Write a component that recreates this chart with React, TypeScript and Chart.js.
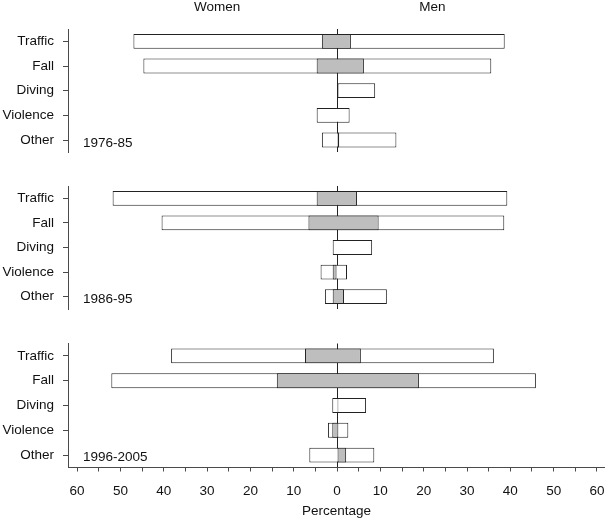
import React, { useEffect, useRef } from 'react';
import { Chart, registerables } from 'chart.js';

Chart.register(...registerables);

// ---- data ----
const categories = ['Traffic', 'Fall', 'Diving', 'Violence', 'Other'];
const periods = ['1976-85', '1986-95', '1996-2005'];

// 1976-85
const womenTotal1 = [47.0, 44.7, 0, 4.7, 3.5];
const menTotal1 = [38.7, 35.6, 8.8, 2.9, 13.7];
const womenGray1 = [3.5, 4.7, 0, 0, 0];
const menGray1 = [3.2, 6.2, 0, 0, 0.5];

// 1986-95
const womenTotal2 = [51.8, 40.5, 1.0, 3.8, 2.8];
const menTotal2 = [39.3, 38.6, 8.1, 2.3, 11.5];
const womenGray2 = [4.7, 6.6, 0, 1.0, 1.0];
const menGray2 = [4.6, 9.6, 0, 0, 1.6];

// 1996-2005
const womenTotal3 = [38.3, 52.1, 1.1, 2.1, 6.4];
const menTotal3 = [36.2, 45.9, 6.7, 2.6, 8.6];
const womenGray3 = [7.4, 13.9, 0, 1.1, 0];
const menGray3 = [5.5, 18.9, 0.3, 0.3, 2.1];

const headerLabels = ['Women', 'Men'];
const xTitle = 'Percentage';

// ---- styling ----
const FONT = "'Liberation Sans', Arial, Helvetica, sans-serif";
const TEXT = '#111111';
const AXIS = '#4a4a4a';
const EDGE = '#222222';
const ZERO = '#222222';
const GRAY = '#bebebe';

function floating(women: number[], men: number[]) {
  return women.map((w, i) => (w === 0 && men[i] === 0 ? null : [-w, men[i]]));
}

const panels = [
  { wt: womenTotal1, mt: menTotal1, wg: womenGray1, mg: menGray1 },
  { wt: womenTotal2, mt: menTotal2, wg: womenGray2, mg: menGray2 },
  { wt: womenTotal3, mt: menTotal3, wg: womenGray3, mg: menGray3 },
];

const layoutPads = [
  { top: 29, bottom: 12.65 },
  { top: 21, bottom: 11 },
  { top: 23.5, bottom: 0 },
];
const periodOffsets = [3, 3, 2];

function makeConfig(p: number): any {
  const isTop = p === 0;
  const isBottom = p === 2;
  const d = panels[p];
  const font = { family: FONT, size: 13.5 };
  const textPlugin = {
    id: 'panelText' + p,
    afterDraw(chart: any) {
      const { ctx } = chart;
      const x = chart.scales.x;
      const y = chart.scales.y;
      ctx.save();
      ctx.font = `13.5px ${FONT}`;
      ctx.fillStyle = TEXT;
      ctx.textBaseline = 'middle';
      ctx.textAlign = 'left';
      ctx.fillText(periods[p], 83, y.getPixelForValue(4) + periodOffsets[p]);
      if (isTop) {
        ctx.textAlign = 'center';
        ctx.fillText(headerLabels[0], x.getPixelForValue(-27.7), 7.5);
        ctx.fillText(headerLabels[1], x.getPixelForValue(22), 7.5);
      }
      ctx.restore();
    },
  };
  return {
    type: 'bar',
    data: {
      labels: categories,
      datasets: [
        {
          data: floating(d.wg, d.mg),
          backgroundColor: GRAY,
          borderColor: EDGE,
          borderWidth: 1,
          borderSkipped: false,
          grouped: false,
          barPercentage: 0.6,
          categoryPercentage: 1,
        },
        {
          data: floating(d.wt, d.mt),
          backgroundColor: '#ffffff',
          borderColor: EDGE,
          borderWidth: 1,
          borderSkipped: false,
          grouped: false,
          barPercentage: 0.6,
          categoryPercentage: 1,
        },
      ],
    },
    options: {
      indexAxis: 'y',
      responsive: false,
      animation: false,
      layout: { padding: { left: 0, right: 0, top: layoutPads[p].top, bottom: layoutPads[p].bottom } },
      plugins: { legend: { display: false }, tooltip: { enabled: false } },
      scales: {
        x: {
          type: 'linear',
          min: -62.1,
          max: 61.85,
          z: 1,
          border: { display: isBottom, color: AXIS, width: 1 },
          grid: {
            drawOnChartArea: true,
            drawTicks: isBottom,
            tickLength: 4,
            tickColor: AXIS,
            lineWidth: 1,
            color: (c: any) => (c.tick && c.tick.value === 0 ? ZERO : 'rgba(0,0,0,0)'),
          },
          ticks: {
            display: isBottom,
            stepSize: 5,
            maxTicksLimit: 40,
            includeBounds: false,
            autoSkip: false,
            maxRotation: 0,
            padding: 12,
            font,
            color: TEXT,
            callback: (v: number) => (v % 10 === 0 ? String(Math.abs(v)) : ''),
          },
          title: {
            display: isBottom,
            text: xTitle,
            font,
            color: TEXT,
            padding: { top: 2, bottom: 0 },
          },
          afterFit: (s: any) => {
            s.paddingLeft = 0;
            s.paddingRight = 0;
            if (isBottom) s.height = 51.5;
          },
        },
        y: {
          type: 'category',
          offset: true,
          border: { display: true, color: AXIS, width: 1 },
          grid: {
            drawOnChartArea: false,
            drawTicks: true,
            tickLength: 5,
            offset: false,
            tickColor: AXIS,
            color: AXIS,
          },
          ticks: { padding: 9, font, color: TEXT, autoSkip: false },
          afterFit: (s: any) => {
            s.width = 68;
            s.paddingTop = 0;
            s.paddingBottom = 0;
          },
        },
      },
    },
    plugins: [textPlugin],
  };
}

export default function App() {
  const r1 = useRef<HTMLCanvasElement>(null);
  const r2 = useRef<HTMLCanvasElement>(null);
  const r3 = useRef<HTMLCanvasElement>(null);

  useEffect(() => {
    const refs = [r1, r2, r3];
    const charts = refs.map((r, i) => new Chart(r.current as HTMLCanvasElement, makeConfig(i)));
    return () => charts.forEach((c) => c.destroy());
  }, []);

  return (
    <div style={{ position: 'absolute', left: 0, top: 0, width: 605, height: 519, background: '#fff' }}>
      <canvas ref={r1} width={605} height={165} style={{ position: 'absolute', left: 0, top: 0 }} />
      <canvas ref={r2} width={605} height={155} style={{ position: 'absolute', left: 0, top: 165 }} />
      <canvas ref={r3} width={605} height={199} style={{ position: 'absolute', left: 0, top: 320 }} />
    </div>
  );
}
